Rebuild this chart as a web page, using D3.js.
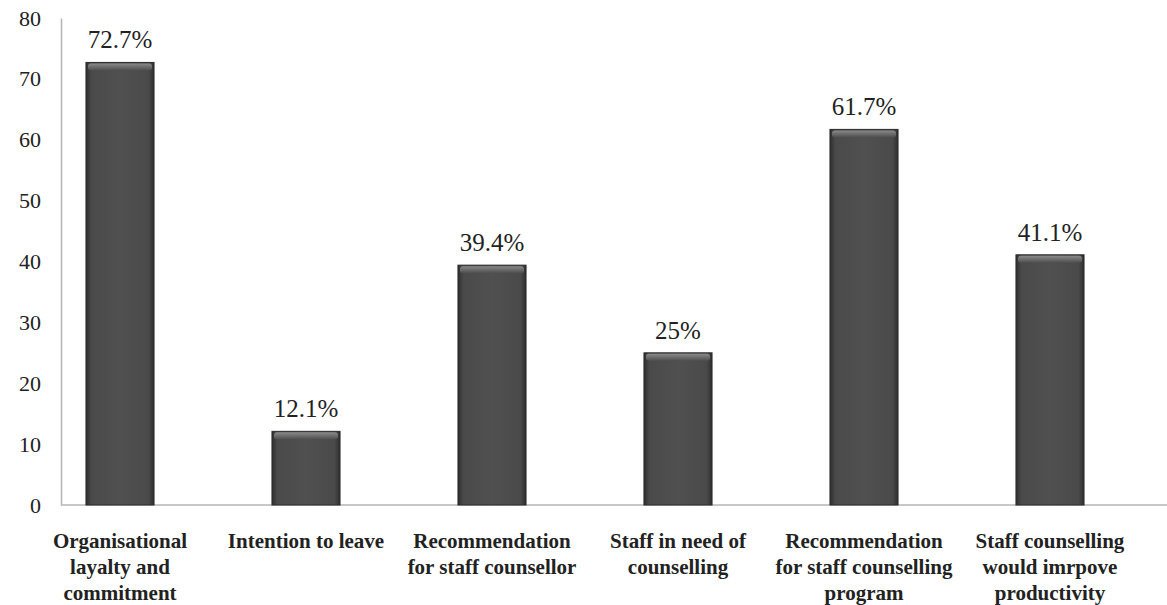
<!DOCTYPE html>
<html>
<head>
<meta charset="utf-8">
<script src="https://cdn.jsdelivr.net/npm/d3@7"></script>
<style>
  body { margin: 0; background: #fff; }
  text { font-family: "Liberation Serif", "DejaVu Serif", serif; fill: #222; }
</style>
</head>
<body>
<div id="chart_div"></div>
<script>
var categories = [
  ["Organisational", "layalty and", "commitment"],
  ["Intention to leave"],
  ["Recommendation", "for staff counsellor"],
  ["Staff in need of", "counselling"],
  ["Recommendation", "for staff counselling", "program"],
  ["Staff counselling", "would imrpove", "productivity"]
];
var values = [72.7, 12.1, 39.4, 25, 61.7, 41.1];
var valueLabels = ["72.7%", "12.1%", "39.4%", "25%", "61.7%", "41.1%"];
var yTicks = [0, 10, 20, 30, 40, 50, 60, 70, 80];

var chartW = 1167, chartH = 605;
var axisX = 61, plotTop = 18, plotBase = 505;

var svg = d3.select("#chart_div")
        .append("svg")
        .attr("id", "main_svg")
        .attr("width", chartW)
        .attr("height", chartH);

var defs = svg.append("defs");
var grad = defs.append("linearGradient")
        .attr("id", "barGrad")
        .attr("x1", "0").attr("x2", "1").attr("y1", "0").attr("y2", "0");
grad.append("stop").attr("offset", "0%").attr("stop-color", "#2e2e2e");
grad.append("stop").attr("offset", "8%").attr("stop-color", "#4a4a4a");
grad.append("stop").attr("offset", "50%").attr("stop-color", "#505050");
grad.append("stop").attr("offset", "92%").attr("stop-color", "#4a4a4a");
grad.append("stop").attr("offset", "100%").attr("stop-color", "#2e2e2e");

var topGrad = defs.append("linearGradient")
        .attr("id", "topGrad")
        .attr("x1", "0").attr("x2", "0").attr("y1", "0").attr("y2", "1");
topGrad.append("stop").attr("offset", "0%").attr("stop-color", "#8a8a8a");
topGrad.append("stop").attr("offset", "100%").attr("stop-color", "#4e4e4e");

var idx = d3.range(categories.length);
var x = d3.scaleBand()
        .domain(idx)
        .range([27, 1143])
        .paddingInner(0.634)
        .paddingOuter(0.317);

var y = d3.scaleLinear()
        .domain([0, 80])
        .range([plotBase, plotTop]);

// y axis
var yAxis = svg.append("g")
        .attr("transform", "translate(" + axisX + ",0)")
        .call(d3.axisLeft(y).tickValues(yTicks).tickSize(0).tickPadding(20));
yAxis.select(".domain").attr("stroke", "#b5b5b5").attr("stroke-width", 1.5);
yAxis.selectAll(".tick text")
        .style("font-size", "22px")
        .style("font-family", "Liberation Serif")
        .attr("fill", "#333");

// x axis line
svg.append("line")
        .attr("x1", axisX).attr("x2", chartW)
        .attr("y1", plotBase).attr("y2", plotBase)
        .attr("stroke", "#b5b5b5").attr("stroke-width", 1.5);

var bars = svg.selectAll(".bar")
        .data(idx)
        .enter()
        .append("g")
        .attr("class", "bar");

bars.append("rect")
        .attr("x", function(i) { return x(i); })
        .attr("y", function(i) { return y(values[i]); })
        .attr("width", x.bandwidth())
        .attr("height", function(i) { return plotBase - y(values[i]); })
        .attr("fill", "url(#barGrad)")
        .attr("stroke", "#2a2a2a")
        .attr("stroke-width", 1);

bars.append("rect")
        .attr("x", function(i) { return x(i) + 2; })
        .attr("y", function(i) { return y(values[i]) + 1; })
        .attr("width", x.bandwidth() - 4)
        .attr("height", 7)
        .attr("rx", 3)
        .attr("fill", "url(#topGrad)");

bars.append("text")
        .attr("x", function(i) { return x(i) + x.bandwidth() / 2; })
        .attr("y", function(i) { return y(values[i]) - 14; })
        .attr("text-anchor", "middle")
        .style("font-size", "25px")
        .attr("fill", "#333")
        .text(function(i) { return valueLabels[i]; });

var labels = svg.selectAll(".catlabel")
        .data(idx)
        .enter()
        .append("text")
        .attr("class", "catlabel")
        .attr("text-anchor", "middle")
        .attr("x", function(i) { return x(i) + x.bandwidth() / 2; })
        .attr("y", 548)
        .style("font-size", "21px")
        .style("font-weight", "bold")
        .attr("fill", "#2a2a2a");

labels.selectAll("tspan")
        .data(function(i) { return categories[i].map(function(t) { return {t: t, i: i}; }); })
        .enter()
        .append("tspan")
        .attr("x", function(d) { return x(d.i) + x.bandwidth() / 2; })
        .attr("dy", function(d, j) { return j == 0 ? 0 : 26; })
        .text(function(d) { return d.t; });
</script>
</body>
</html>
